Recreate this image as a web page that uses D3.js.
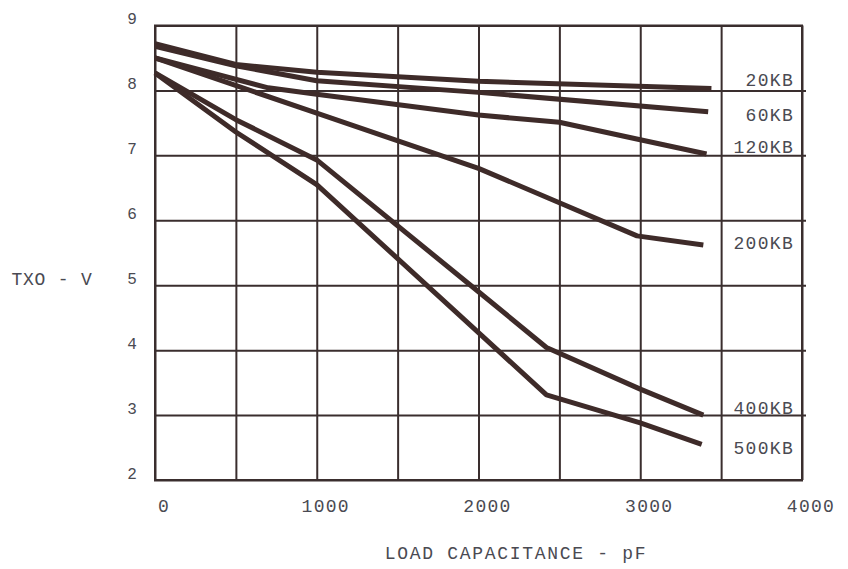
<!DOCTYPE html>
<html>
<head>
<meta charset="utf-8">
<script src="https://cdn.jsdelivr.net/npm/d3@7/dist/d3.min.js"></script>
<style>
  html, body { margin: 0; padding: 0; background: #ffffff; }
  svg { display: block; }
  text { font-family: "Liberation Mono", "Courier New", monospace; fill: #4a4a52; }
</style>
</head>
<body>
<svg id="chart" width="848" height="569"></svg>
<script>
// ---- data ----
const seriesNames = ["20KB", "60KB", "120KB", "200KB", "400KB", "500KB"];
const s20KB  = [[0, 8.72], [500, 8.40], [1000, 8.28], [2000, 8.14], [3440, 8.03]];
const s60KB  = [[0, 8.68], [500, 8.38], [1000, 8.15], [2000, 7.97], [3420, 7.67]];
const s120KB = [[0, 8.50], [700, 8.04], [1000, 7.94], [2000, 7.62], [2500, 7.51], [3000, 7.24], [3410, 7.02]];
const s200KB = [[0, 8.50], [1000, 7.65], [2000, 6.80], [2500, 6.27], [2980, 5.76], [3390, 5.62]];
const s400KB = [[0, 8.27], [500, 7.55], [1000, 6.93], [2000, 4.90], [2420, 4.04], [3000, 3.40], [3390, 3.00]];
const s500KB = [[0, 8.27], [500, 7.36], [1000, 6.55], [2000, 4.27], [2420, 3.31], [3000, 2.88], [3380, 2.55]];
const seriesValues = [s20KB, s60KB, s120KB, s200KB, s400KB, s500KB];
const labelLevels = [8.16, 7.62, 7.13, 5.65, 3.12, 2.49];   // value level where each series name sits
const xTickLabels = [0, 1000, 2000, 3000, 4000];
const xGridValues = [0, 500, 1000, 1500, 2000, 2500, 3000, 3500, 4000];
const yTickLabels = [2, 3, 4, 5, 6, 7, 8, 9];
const xTitle = "LOAD CAPACITANCE - pF";
const yTitle = "TXO - V";

// ---- layout ----
const svg = d3.select("#chart");
const x = d3.scaleLinear().domain([0, 4000]).range([155, 802]);
const y = d3.scaleLinear().domain([2, 9]).range([480, 25.5]);
const gridColor = "#3a2e2e";
const lineColor = "#3e2b29";

// vertical grid lines
svg.append("g")
  .attr("transform", `translate(0,${y(2)})`)
  .call(d3.axisBottom(x).tickValues(xGridValues).tickSize(-(y(2) - y(9))).tickFormat(""))
  .call(g => g.select(".domain").remove())
  .call(g => g.selectAll("line").attr("stroke", gridColor).attr("stroke-width", 2));

// horizontal grid lines
svg.append("g")
  .attr("transform", `translate(${x(0)},0)`)
  .call(d3.axisLeft(y).tickValues(yTickLabels).tickSize(-(x(4000) - x(0))).tickFormat(""))
  .call(g => g.select(".domain").remove())
  .call(g => g.selectAll(".tick line")
      .attr("x2", d => (d === 2 || d === 9) ? (x(4000) - x(0) + 1) : (x(4000) - x(0) + 4))
      .attr("x1", -1)
      .attr("stroke", gridColor).attr("stroke-width", 2));

// x tick labels
svg.append("g")
  .attr("transform", `translate(8.5,${y(2) + 22})`)
  .call(d3.axisBottom(x).tickValues(xTickLabels).tickSize(0).tickPadding(0).tickFormat(d3.format("d")))
  .call(g => g.select(".domain").remove())
  .call(g => g.selectAll("text")
      .attr("font-size", "18px").attr("letter-spacing", "1.3px")
      .attr("dy", "0.35em").attr("y", 4)
      .attr("font-family", '"Liberation Mono", "Courier New", monospace').attr("fill", "#4a4a52"));

// y tick labels
svg.append("g")
  .attr("transform", `translate(138,-7)`)
  .call(d3.axisLeft(y).tickValues(yTickLabels).tickSize(0).tickPadding(0).tickFormat(d3.format("d")))
  .call(g => g.select(".domain").remove())
  .call(g => g.selectAll("text")
      .attr("font-size", "16px").attr("text-anchor", "middle").attr("x", -6)
      .attr("font-family", '"DejaVu Sans", Verdana, sans-serif').attr("fill", "#55555c"));

// plot frame
svg.append("rect")
  .attr("x", x(0)).attr("y", y(9))
  .attr("width", x(4000) - x(0)).attr("height", y(2) - y(9))
  .attr("fill", "none").attr("stroke", gridColor).attr("stroke-width", 2);

// series lines
const line = d3.line().x(d => x(d[0])).y(d => y(d[1]));
svg.append("g").selectAll("path")
  .data(seriesValues)
  .join("path")
  .attr("d", line)
  .attr("fill", "none")
  .attr("stroke", lineColor)
  .attr("stroke-width", 5)
  .attr("stroke-linejoin", "round")
  .attr("stroke-linecap", "butt");

// series labels
svg.append("g").selectAll("text")
  .data(seriesNames)
  .join("text")
  .attr("x", 794)
  .attr("y", (d, i) => y(labelLevels[i]))
  .attr("dy", "0.35em")
  .attr("text-anchor", "end")
  .attr("font-size", "18px")
  .attr("letter-spacing", "1.3px")
  .text(d => d);

// axis titles
svg.append("text")
  .attr("x", 516).attr("y", 553).attr("dy", "0.35em")
  .attr("text-anchor", "middle")
  .attr("font-size", "18px").attr("letter-spacing", "1.7px")
  .text(xTitle);

svg.append("text")
  .attr("x", 52).attr("y", 279).attr("dy", "0.35em")
  .attr("text-anchor", "middle")
  .attr("font-size", "18px").attr("letter-spacing", "0.8px")
  .text(yTitle);
</script>
</body>
</html>
